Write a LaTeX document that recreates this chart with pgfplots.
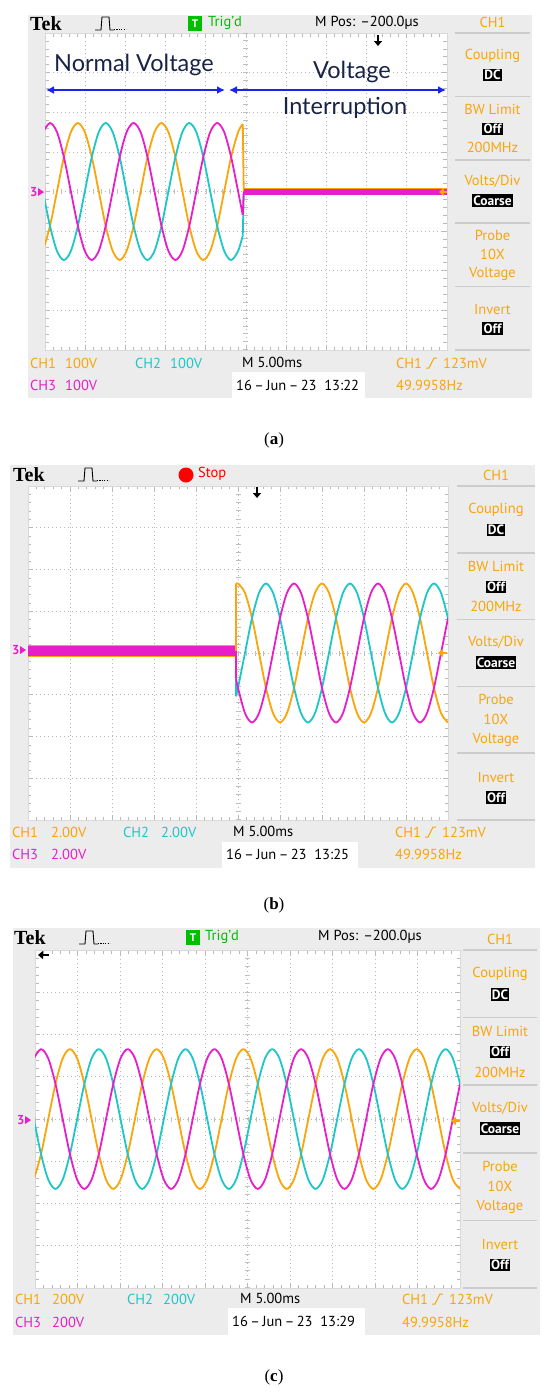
\documentclass[border=0pt]{standalone}
\usepackage{pgfplots}
\pgfplotsset{compat=1.18}
\usepackage{pgfplotstable}
\usepackage{fontspec}
\setmainfont{Liberation Serif}
\newfontfamily\scopefont{PT Sans}
\newfontfamily\notefont{Lato}
\usetikzlibrary{arrows.meta}

\definecolor{tekor}{RGB}{250,165,10}
\definecolor{tekcy}{RGB}{30,198,200}
\definecolor{tekmg}{RGB}{232,30,200}
\definecolor{panel}{RGB}{236,236,236}
\definecolor{sepc}{RGB}{204,204,204}
\definecolor{trig}{RGB}{0,190,0}
\definecolor{note}{RGB}{25,35,70}
\definecolor{arrowblue}{RGB}{25,35,235}

% (a) 100 V/div, 5 ms/div -- normal voltage, then interruption
\pgfplotstableread{
t ch1 ch2 ch3
-0.25 -150 0 150
0.62 -87 -87 173
1.49 0 -150 150
2.35 87 -173 87
3.22 150 -150 0
4.09 173 -87 -87
4.95 150 0 -150
5.82 87 87 -173
6.69 0 150 -150
7.55 -87 173 -87
8.42 -150 150 0
9.29 -173 87 87
10.15 -150 0 150
11.02 -87 -87 173
11.89 0 -150 150
12.75 87 -173 87
13.62 150 -150 0
14.49 173 -87 -87
15.35 150 0 -150
16.22 87 87 -173
17.09 0 150 -150
17.95 -87 173 -87
18.82 -150 150 0
19.69 -173 87 87
20.55 -150 0 150
21.42 -87 -87 173
22.29 0 -150 150
23.15 87 -173 87
24.02 150 -150 0
24.60 170 -111 -59
}\dataA

% (b) 2 V/div -- voltage restored
\pgfplotstableread{
t ch1 ch2 ch3
24.76 3.29 -2.08 -1.22
25.00 3.33 -1.67 -1.67
25.83 2.88 0 -2.88
26.67 1.67 1.67 -3.33
27.50 0 2.88 -2.88
28.33 -1.67 3.33 -1.67
29.17 -2.88 2.88 0
30.00 -3.33 1.67 1.67
30.83 -2.88 0 2.88
31.67 -1.67 -1.67 3.33
32.50 0 -2.88 2.88
33.33 1.67 -3.33 1.67
34.17 2.88 -2.88 0
35.00 3.33 -1.67 -1.67
35.83 2.88 0 -2.88
36.67 1.67 1.67 -3.33
37.50 0 2.88 -2.88
38.33 -1.67 3.33 -1.67
39.17 -2.88 2.88 0
40.00 -3.33 1.67 1.67
40.83 -2.88 0 2.88
41.67 -1.67 -1.67 3.33
42.50 0 -2.88 2.88
43.33 1.67 -3.33 1.67
44.17 2.88 -2.88 0
45.00 3.33 -1.67 -1.67
45.83 2.88 0 -2.88
46.67 1.67 1.67 -3.33
47.50 0 2.88 -2.88
48.33 -1.67 3.33 -1.67
49.17 -2.88 2.88 0
50.00 -3.33 1.67 1.67
}\dataB

% (c) 200 V/div
\pgfplotstableread{
t ch1 ch2 ch3
-0.14 -287 0 287
0.71 -166 -166 331
1.56 0 -287 287
2.41 166 -331 166
3.26 287 -287 0
4.11 331 -166 -166
4.96 287 0 -287
5.81 166 166 -331
6.66 0 287 -287
7.51 -166 331 -166
8.36 -287 287 0
9.21 -331 166 166
10.06 -287 0 287
10.91 -166 -166 331
11.76 0 -287 287
12.61 166 -331 166
13.46 287 -287 0
14.31 331 -166 -166
15.16 287 0 -287
16.01 166 166 -331
16.86 0 287 -287
17.71 -166 331 -166
18.56 -287 287 0
19.41 -331 166 166
20.26 -287 0 287
21.11 -166 -166 331
21.96 0 -287 287
22.81 166 -331 166
23.66 287 -287 0
24.51 331 -166 -166
25.36 287 0 -287
26.21 166 166 -331
27.06 0 287 -287
27.91 -166 331 -166
28.76 -287 287 0
29.61 -331 166 166
30.46 -287 0 287
31.31 -166 -166 331
32.16 0 -287 287
33.01 166 -331 166
33.86 287 -287 0
34.71 331 -166 -166
35.56 287 0 -287
36.41 166 166 -331
37.26 0 287 -287
38.11 -166 331 -166
38.96 -287 287 0
39.81 -331 166 166
40.66 -287 0 287
41.51 -166 -166 331
42.36 0 -287 287
43.21 166 -331 166
44.06 287 -287 0
44.91 331 -166 -166
45.76 287 0 -287
46.61 166 166 -331
47.46 0 287 -287
48.31 -166 331 -166
49.16 -287 287 0
50.01 -331 166 166
}\dataC

\pgfplotsset{
  scopeaxis/.style={scale only axis, anchor=south west,
    xmin=0, xmax=50, xtick distance=5,
    xticklabels={}, yticklabels={},
    grid=major,
    major grid style={gray!55, line width=0.7pt, dash pattern=on 1pt off 3pt},
    minor x tick num=4, minor y tick num=4,
    tick align=inside, tick pos=both,
    major tick length=5pt, minor tick length=3.5pt,
    every tick/.style={gray!55, line width=0.7pt},
    axis line style={gray!30},
    axis background/.style={fill=white}},
  ch1/.style={tekor, line width=1.8pt, line join=round},
  ch2/.style={tekcy, line width=1.8pt, line join=round},
  ch3/.style={tekmg, line width=1.8pt, line join=round},
}

\tikzset{
  st/.style={font=\scopefont\fontsize{14.5}{16}\selectfont, inner sep=0pt},
  blk/.style={font=\scopefont\bfseries\fontsize{13.5}{15}\selectfont, fill=black, text=white, inner sep=1.3pt},
}

\newcommand{\rpanel}[4]{%
  \pgfmathsetmacro\xc{(#1+#2)/2}%
  \foreach \i in {0,1,2,3,4,5}{\draw[sepc, line width=1.5pt] ({#1},{#3+\i*#4}) -- ({#2},{#3+\i*#4});}%
  \node[st, text=tekor] at (\xc,{#3-11}) {CH1};
  \node[st, text=tekor] at (\xc,{#3+0.36*#4}) {Coupling};
  \node[blk] at (\xc,{#3+0.66*#4}) {DC};
  \node[st, text=tekor] at (\xc,{#3+1.21*#4}) {BW Limit};
  \node[blk] at (\xc,{#3+1.51*#4}) {Off};
  \node[st, text=tekor] at (\xc,{#3+1.81*#4}) {200MHz};
  \node[st, text=tekor] at (\xc,{#3+2.34*#4}) {Volts/Div};
  \node[blk] at (\xc,{#3+2.64*#4}) {Coarse};
  \node[st, text=tekor] at (\xc,{#3+3.2*#4}) {Probe};
  \node[st, text=tekor] at (\xc,{#3+3.5*#4}) {10X};
  \node[st, text=tekor] at (\xc,{#3+3.8*#4}) {Voltage};
  \node[st, text=tekor] at (\xc,{#3+4.36*#4}) {Invert};
  \node[blk] at (\xc,{#3+4.66*#4}) {Off};
}

% top bar: Tek logo and pulse icon
\newcommand{\tekbar}[2]{%
  \node[font=\bfseries\fontsize{20}{22}\selectfont, anchor=west, inner sep=0pt] at ({#1},{#2}) {Tek};
  \draw[line width=0.9pt] ({#1+65},{#2+6}) -- ({#1+71},{#2+6}) -- ({#1+72},{#2-7}) -- ({#1+79},{#2-7}) -- ({#1+80},{#2+6}) -- ({#1+84},{#2+6});
  \draw[line width=0.8pt, dash pattern=on 1.2pt off 1.2pt] ({#1+84},{#2+5}) -- ({#1+96},{#2+5});
}

\newcommand{\trigicon}[2]{%
  \draw[tekor, line width=1pt] ({#1},{#2+5}) -- ({#1+3},{#2+5}) -- ({#1+8},{#2-5}) -- ({#1+11},{#2-5});
}

\begin{document}
\begin{tikzpicture}
\begin{scope}[x=1pt, y=-1pt]
  \path[use as bounding box] (0,0) rectangle (550,1395);
  \fill[white] (0,0) rectangle (550,1395);
  \fill[panel] (28,15) rectangle (532,398);
  \fill[panel] (10,465) rectangle (535,868);
  \fill[panel] (13,928) rectangle (540,1335);
\end{scope}

% ---------- (a)
\begin{axis}[scopeaxis, at={(45pt,-350pt)}, width=402pt, height=317pt,
  ymin=-400, ymax=400, ytick distance=100]
  \draw[gray!50, line width=5pt, dash pattern=on 0.7pt off 7.22pt] (axis cs:25,-400) -- (axis cs:25,400);
  \draw[gray!50, line width=5pt, dash pattern=on 0.7pt off 7.34pt] (axis cs:0,0) -- (axis cs:50,0);
  \addplot[ch1, smooth] table[x=t, y=ch1] {\dataA};
  \addplot[ch2, smooth] table[x=t, y=ch2] {\dataA};
  \addplot[ch3, smooth] table[x=t, y=ch3] {\dataA};
  \addplot[ch1] coordinates {(24.60,170) (24.72,0)};
  \addplot[ch2] coordinates {(24.60,-111) (24.72,0)};
  \addplot[ch3] coordinates {(24.60,-59) (24.72,0)};
  \addplot[tekor, line width=7.5pt] coordinates {(24.72,0) (50,0)};
  \addplot[tekmg, line width=6pt] coordinates {(24.72,0) (50,0)};
\end{axis}

% ---------- (b)
\begin{axis}[scopeaxis, at={(28pt,-820pt)}, width=420pt, height=334pt,
  ymin=-8, ymax=8, ytick distance=2]
  \draw[gray!50, line width=5pt, dash pattern=on 0.7pt off 7.65pt] (axis cs:25,-8) -- (axis cs:25,8);
  \draw[gray!50, line width=5pt, dash pattern=on 0.7pt off 7.7pt] (axis cs:0,0) -- (axis cs:50,0);
  \addplot[tekor, line width=12pt] coordinates {(0,0.1) (24.76,0.1)};
  \addplot[tekmg, line width=10.5pt] coordinates {(0,0.1) (24.76,0.1)};
  \addplot[ch1] coordinates {(24.76,0.1) (24.76,3.29)};
  \addplot[ch2] coordinates {(24.76,0.1) (24.76,-2.08)};
  \addplot[ch3] coordinates {(24.76,0.1) (24.76,-1.22)};
  \addplot[ch1, smooth] table[x=t, y=ch1] {\dataB};
  \addplot[ch2, smooth] table[x=t, y=ch2] {\dataB};
  \addplot[ch3, smooth] table[x=t, y=ch3] {\dataB};
\end{axis}

% ---------- (c)
\begin{axis}[scopeaxis, at={(35pt,-1288pt)}, width=425pt, height=338pt,
  ymin=-800, ymax=800, ytick distance=200]
  \draw[gray!50, line width=5pt, dash pattern=on 0.7pt off 7.75pt] (axis cs:25,-800) -- (axis cs:25,800);
  \draw[gray!50, line width=5pt, dash pattern=on 0.7pt off 7.8pt] (axis cs:0,0) -- (axis cs:50,0);
  \addplot[ch1, smooth] table[x=t, y=ch1] {\dataC};
  \addplot[ch2, smooth] table[x=t, y=ch2] {\dataC};
  \addplot[ch3, smooth] table[x=t, y=ch3] {\dataC};
\end{axis}

\begin{scope}[x=1pt, y=-1pt]
  % ===== panel (a)
  \tekbar{30}{24}
  \fill[trig] (188,16) rectangle (202,31);
  \node[st, text=white, font=\scopefont\bfseries\fontsize{11}{12}\selectfont] at (195,23.5) {T};
  \node[st, text=trig, anchor=west] at (208,23) {Trig’d};
  \node[st, anchor=west] at (315,23) {M Pos: –200.0µs};
  \draw[line width=1.5pt, -{Triangle[length=5pt, width=8pt]}] (378,35) -- (378,46);
  \rpanel{455}{530}{33}{63.4}
  \node[st, text=tekmg, font=\scopefont\bfseries\fontsize{13}{14}\selectfont, anchor=west] at (30,192) {3};
  \fill[tekmg] (38,188) -- (44,192) -- (38,196) -- cycle;
  \draw[tekor, line width=1.5pt, -{Triangle[length=5pt, width=8pt]}] (447,192) -- (439,192);
  \node[font=\notefont\fontsize{23.5}{26}\selectfont, text=note, anchor=west, inner sep=0pt] at (54,65) {Normal Voltage};
  \node[font=\notefont\fontsize{23.5}{26}\selectfont, text=note, inner sep=0pt] at (352,72) {Voltage};
  \node[font=\notefont\fontsize{23.5}{26}\selectfont, text=note, inner sep=0pt] at (345,108) {Interruption};
  \draw[arrowblue, line width=1.6pt, {Latex[length=8pt, width=8pt]}-{Latex[length=8pt, width=8pt]}] (46,90) -- (225,90);
  \draw[arrowblue, line width=1.6pt, {Latex[length=8pt, width=8pt]}-{Latex[length=8pt, width=8pt]}] (229,90) -- (446,90);
  \node[st, text=tekor, anchor=west] at (30,363) {CH1};
  \node[st, text=tekor, anchor=west] at (65,363) {100V};
  \node[st, text=tekcy, anchor=west] at (135,363) {CH2};
  \node[st, text=tekcy, anchor=west] at (170,363) {100V};
  \node[st, anchor=west] at (242,362) {M 5.00ms};
  \node[st, text=tekor, anchor=west] at (396,363) {CH1};
  \trigicon{426}{363}
  \node[st, text=tekor, anchor=west] at (443,363) {123mV};
  \node[st, text=tekmg, anchor=west] at (30,385) {CH3};
  \node[st, text=tekmg, anchor=west] at (65,385) {100V};
  \fill[white] (232,372) rectangle (365,398);
  \node[st, anchor=west] at (236,385) {16\,–\,Jun\,–\,23\ \ 13:22};
  \node[st, text=tekor, anchor=west] at (396,385) {49.9958Hz};
  \node[font=\fontsize{17}{20}\selectfont] at (274,440) {(\textbf{a})};

  % ===== panel (b)
  \tekbar{13}{475}
  \fill[red] (186,475) circle (7.5);
  \node[st, text=red, anchor=west] at (198,474) {Stop};
  \draw[line width=1.5pt, -{Triangle[length=5pt, width=8pt]}] (257,487) -- (257,498);
  \rpanel{457}{535}{486}{66.8}
  \node[st, text=tekmg, font=\scopefont\bfseries\fontsize{13}{14}\selectfont, anchor=west] at (12,650) {3};
  \fill[tekmg] (20,646) -- (26,650) -- (20,654) -- cycle;
  \draw[tekor, line width=1.5pt, -{Triangle[length=5pt, width=8pt]}] (447,653) -- (438,653);
  \node[st, text=tekor, anchor=west] at (12,832) {CH1};
  \node[st, text=tekor, anchor=west] at (51,832) {2.00V};
  \node[st, text=tekcy, anchor=west] at (123,832) {CH2};
  \node[st, text=tekcy, anchor=west] at (161,832) {2.00V};
  \node[st, anchor=west] at (233,831) {M 5.00ms};
  \node[st, text=tekor, anchor=west] at (395,832) {CH1};
  \trigicon{425}{832}
  \node[st, text=tekor, anchor=west] at (442,832) {123mV};
  \node[st, text=tekmg, anchor=west] at (12,854) {CH3};
  \node[st, text=tekmg, anchor=west] at (51,854) {2.00V};
  \fill[white] (222,842) rectangle (358,868);
  \node[st, anchor=west] at (226,854) {16\,–\,Jun\,–\,23\ \ 13:25};
  \node[st, text=tekor, anchor=west] at (395,854) {49.9958Hz};
  \node[font=\fontsize{17}{20}\selectfont] at (274,905) {(\textbf{b})};

  % ===== panel (c)
  \tekbar{14}{938}
  \fill[trig] (186,930) rectangle (200,945);
  \node[st, text=white, font=\scopefont\bfseries\fontsize{11}{12}\selectfont] at (193,937.5) {T};
  \node[st, text=trig, anchor=west] at (205,937) {Trig’d};
  \node[st, anchor=west] at (318,937) {M Pos: –200.0µs};
  \draw[line width=1.5pt, -{Triangle[length=5pt, width=8pt]}] (49,955) -- (38,955);
  \rpanel{463}{537}{950}{67.6}
  \node[st, text=tekmg, font=\scopefont\bfseries\fontsize{13}{14}\selectfont, anchor=west] at (17,1120) {3};
  \fill[tekmg] (25,1116) -- (31,1120) -- (25,1124) -- cycle;
  \draw[tekor, line width=1.5pt, -{Triangle[length=5pt, width=8pt]}] (460,1121) -- (451,1121);
  \node[st, text=tekor, anchor=west] at (15,1299) {CH1};
  \node[st, text=tekor, anchor=west] at (52,1299) {200V};
  \node[st, text=tekcy, anchor=west] at (127,1299) {CH2};
  \node[st, text=tekcy, anchor=west] at (163,1299) {200V};
  \node[st, anchor=west] at (240,1298) {M 5.00ms};
  \node[st, text=tekor, anchor=west] at (402,1299) {CH1};
  \trigicon{432}{1299}
  \node[st, text=tekor, anchor=west] at (449,1299) {123mV};
  \node[st, text=tekmg, anchor=west] at (15,1322) {CH3};
  \node[st, text=tekmg, anchor=west] at (52,1322) {200V};
  \fill[white] (228,1308) rectangle (365,1335);
  \node[st, anchor=west] at (232,1321) {16\,–\,Jun\,–\,23\ \ 13:29};
  \node[st, text=tekor, anchor=west] at (402,1322) {49.9958Hz};
  \node[font=\fontsize{17}{20}\selectfont] at (274,1377) {(\textbf{c})};
\end{scope}
\end{tikzpicture}
\end{document}
